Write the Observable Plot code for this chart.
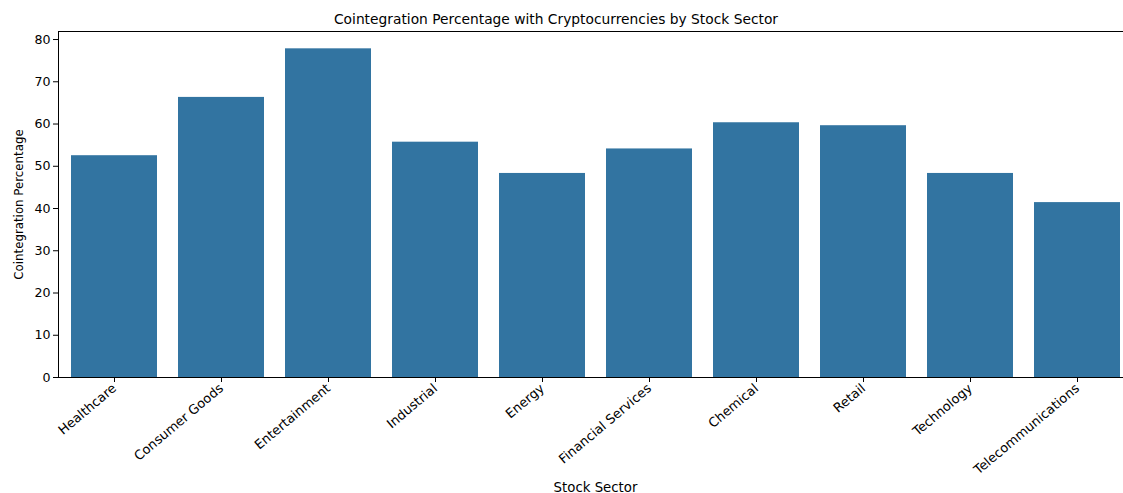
<!DOCTYPE html>
<html>
<head>
<meta charset="utf-8">
<script src="https://cdn.jsdelivr.net/npm/d3@7"></script>
<script src="https://cdn.jsdelivr.net/npm/@observablehq/plot@0.6"></script>
<style>
  html, body { margin: 0; padding: 0; background: #fff; overflow: hidden; }
  #wrap { width: 1123px; height: 493px; overflow: hidden; font-family: "DejaVu Sans", sans-serif; }
  #title { height: 30px; box-sizing: border-box; padding-top: 11px; line-height: 16px; font-size: 13.8px; text-align: center; width: 1112px; color: #000; white-space: nowrap; }
  #chart svg { max-width: none !important; }
</style>
</head>
<body>
<div id="wrap">
  <div id="title">Cointegration Percentage with Cryptocurrencies by Stock Sector</div>
  <div id="chart"></div>
</div>
<script>
const sectors = ["Healthcare", "Consumer Goods", "Entertainment", "Industrial", "Energy", "Financial Services", "Chemical", "Retail", "Technology", "Telecommunications"];
const percentages = [52.5, 66.3, 77.8, 55.7, 48.3, 54.1, 60.3, 59.6, 48.3, 41.4];
const yTicks = [0, 10, 20, 30, 40, 50, 60, 70, 80];

const data = sectors.map((s, i) => ({sector: s, value: percentages[i]}));

const chart = Plot.plot({
  width: 1132,
  height: 463,
  marginLeft: 58,
  marginRight: 0,
  marginTop: 1,
  marginBottom: 116,
  style: {fontFamily: "DejaVu Sans, sans-serif", fontSize: "12.5px", color: "#000", background: "#fff", maxWidth: "none"},
  x: {domain: sectors, paddingInner: 0.2, paddingOuter: 0.1, label: null},
  y: {domain: [0, 81.9], label: null},
  marks: [
    Plot.barY(data, {x: "sector", y: "value", fill: "#3274a1"}),
    Plot.axisX({tickRotate: -40, tickSize: 5, tickPadding: 4, fontSize: 13, label: null}),
    Plot.axisX({ticks: [], tickSize: 0, fontSize: 13.3, label: "Stock Sector", labelAnchor: "center", labelArrow: "none", labelOffset: 114}),
    Plot.axisY({ticks: yTicks, tickSize: 5, tickPadding: 3, fontSize: 12.6, label: null}),
    Plot.axisY({ticks: [], tickSize: 0, fontSize: 11.8, label: "Cointegration Percentage", labelAnchor: "center", labelArrow: "none", labelOffset: 44}),
    Plot.ruleY([0], {stroke: "#000", strokeWidth: 1}),
    Plot.ruleY([81.9], {stroke: "#000", strokeWidth: 1}),
    Plot.frame({anchor: "left", stroke: "#000", strokeWidth: 1})
  ]
});
document.getElementById("chart").appendChild(chart);
</script>
</body>
</html>
